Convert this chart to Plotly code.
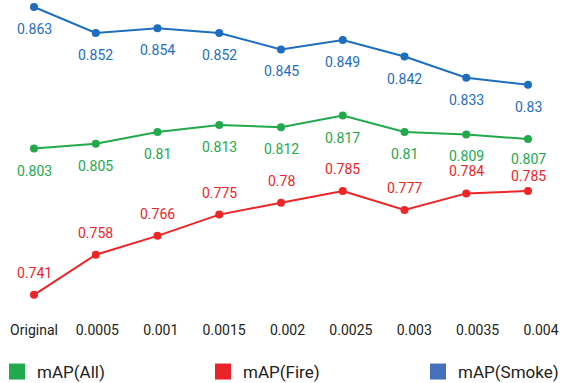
import plotly.graph_objects as go

categories = ["Original", "0.0005", "0.001", "0.0015", "0.002", "0.0025", "0.003", "0.0035", "0.004"]
map_all = [0.803, 0.805, 0.81, 0.813, 0.812, 0.817, 0.81, 0.809, 0.807]
map_fire = [0.741, 0.758, 0.766, 0.775, 0.78, 0.785, 0.777, 0.784, 0.785]
map_smoke = [0.863, 0.852, 0.854, 0.852, 0.845, 0.849, 0.842, 0.833, 0.83]

series = [
    ("mAP(All)", map_all, "#22a94b", "#22a94b", -22, "legend", -3),
    ("mAP(Fire)", map_fire, "#ee2426", "#e8232a", 22, "legend2", 203),
    ("mAP(Smoke)", map_smoke, "#1e6ebf", "#4670bd", -22, "legend3", 418),
]
# small label nudges (pixels) to avoid collisions, as in the original
nudges = {("mAP(Fire)", 8): -7, ("mAP(All)", 8): 2}

FONT = "Roboto"
W, H = 562, 383
fig = go.Figure()
annotations = []
for name, vals, col, legcol, shift, leg, lx in series:
    fig.add_trace(go.Scatter(
        x=categories, y=vals, mode="lines+markers", name=name,
        line=dict(color=col, width=2), marker=dict(color=col, size=8),
        showlegend=False, hoverinfo="skip"))
    for i, v in enumerate(vals):
        annotations.append(dict(
            x=i, y=v, xref="x", yref="y", text=f"{v:g}", showarrow=False,
            yshift=shift + nudges.get((name, i), 0),
            font=dict(family=FONT, size=14, color=col)))

# legend entries (square swatches), each in its own legend box
legends = {}
for name, vals, col, legcol, shift, leg, lx in series:
    fig.add_trace(go.Scatter(
        x=[None], y=[None], mode="markers", name=name, legend=leg,
        marker=dict(symbol="square", size=16, color=legcol)))
    legends[leg] = dict(orientation="h", xref="paper", yref="container",
                        x=lx / W, y=1 - 372 / H, xanchor="left", yanchor="middle",
                        bgcolor="rgba(0,0,0,0)",
                        font=dict(family=FONT, size=17, color="#222222"),
                        itemsizing="trace")

# invisible trace to carry the tick-label axis
fig.add_trace(go.Scatter(
    x=categories, y=map_all, xaxis="x2", mode="lines",
    line=dict(width=0), opacity=0, showlegend=False, hoverinfo="skip"))

fig.update_layout(
    width=W, height=H,
    margin=dict(l=0, r=0, t=0, b=71, autoexpand=False),
    paper_bgcolor="white", plot_bgcolor="white",
    font=dict(family=FONT, color="#222222"),
    xaxis=dict(type="category", range=[-0.5506, 8.5506], showticklabels=False,
               showgrid=False, zeroline=False, showline=False, ticks="", automargin=False),
    xaxis2=dict(type="category", overlaying="x", anchor="y", side="bottom",
                range=[-0.5365, 8.331], showgrid=False, zeroline=False, automargin=False,
                showline=False, ticks="", ticklabelstandoff=8,
                tickfont=dict(family=FONT, size=14, color="#222222")),
    yaxis=dict(range=[0.73372, 0.86597], visible=False, automargin=False),
    annotations=annotations,
    **legends,
)

fig.write_html("out.html", config={"displayModeBar": False},
               post_script="document.body.style.margin='0';")
